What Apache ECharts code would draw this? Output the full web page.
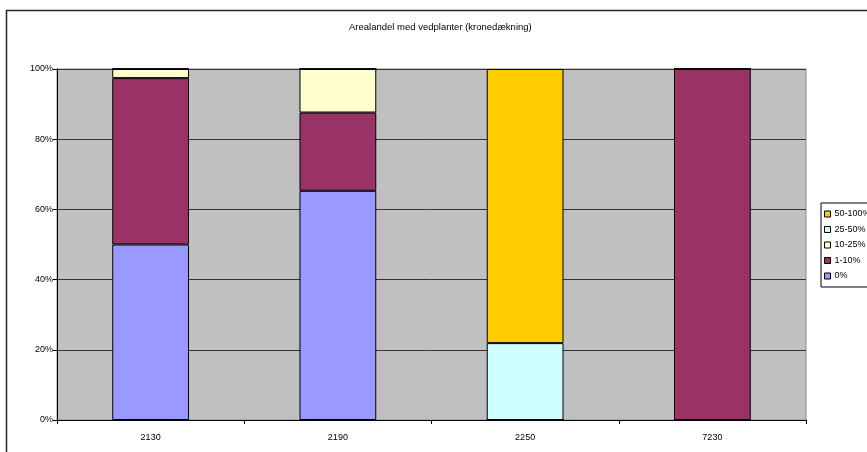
<!DOCTYPE html>
<html><head><meta charset="utf-8">
<script src="https://cdn.jsdelivr.net/npm/echarts@6/dist/echarts.min.js"></script>
<style>html,body{margin:0;padding:0;background:#fff}#c{width:867px;height:452px}</style>
</head><body><div id="c"></div>
<script>
const categories = ['2130', '2190', '2250', '7230'];
const s0 = [50, 65.3, 0, 0];          // 0%
const s1to10 = [47.4, 22.3, 0, 100];  // 1-10%
const s10to25 = [2.6, 12.4, 0, 0];    // 10-25%
const s25to50 = [0, 0, 21.9, 0];      // 25-50%
const s50to100 = [0, 0, 78.1, 0];     // 50-100%
const seriesNames = ['0%', '1-10%', '10-25%', '25-50%', '50-100%'];
const legendOrder = ['50-100%', '25-50%', '10-25%', '1-10%', '0%'];
const colors = ['#9999FF', '#993366', '#FFFFCC', '#CCFFFF', '#FFCC00'];
const values = [s0, s1to10, s10to25, s25to50, s50to100];
const font = 'Liberation Sans, Arial, sans-serif';

const chart = echarts.init(document.getElementById('c'), null, {renderer: 'canvas'});
chart.setOption({
  animation: false,
  textStyle: {fontFamily: font},
  graphic: [
    {type: 'rect', z: -1, silent: true, shape: {x: 6.5, y: 10.5, width: 900, height: 500},
     style: {fill: 'none', stroke: '#222', lineWidth: 1.5}},
    {type: 'text', left: 349, top: 22, silent: true,
     style: {text: 'Arealandel med vedplanter (kronedækning)', fontSize: 9.5, fill: '#000', fontFamily: font}}
  ],
  legend: {
    data: legendOrder,
    orient: 'vertical',
    left: 821, top: 203,
    padding: [6, 40, 6, 3],
    borderColor: '#000', borderWidth: 1,
    backgroundColor: '#fff',
    itemWidth: 6, itemHeight: 6, itemGap: 5.5,
    icon: 'rect',
    itemStyle: {borderColor: '#000', borderWidth: 1},
    textStyle: {fontSize: 9, color: '#000', fontFamily: font, lineHeight: 10, padding: [0, 0, 0, -1]}
  },
  grid: {left: 57, right: 61, top: 69, bottom: 32, show: true, backgroundColor: '#C0C0C0',
         borderColor: '#8a8a8a', borderWidth: 1},
  xAxis: {
    type: 'category', data: categories,
    axisLine: {lineStyle: {color: '#000', width: 1}},
    axisTick: {show: true, length: 4, lineStyle: {color: '#000'}},
    axisLabel: {fontSize: 9, color: '#000', margin: 13, fontFamily: font},
    splitLine: {show: false}
  },
  yAxis: {
    type: 'value', min: 0, max: 100, interval: 20,
    axisLine: {show: true, lineStyle: {color: '#000', width: 1}},
    axisTick: {show: true, length: 4, lineStyle: {color: '#000'}},
    axisLabel: {formatter: '{value}%', fontSize: 9, color: '#000', margin: 4, fontFamily: font},
    splitLine: {show: true, lineStyle: {color: '#333', width: 1}}
  },
  series: seriesNames.map((n, i) => ({
    name: n, type: 'bar', stack: 'total', barWidth: '41%',
    data: values[i],
    itemStyle: {color: colors[i], borderColor: '#000', borderWidth: 1}
  }))
});
</script></body></html>
